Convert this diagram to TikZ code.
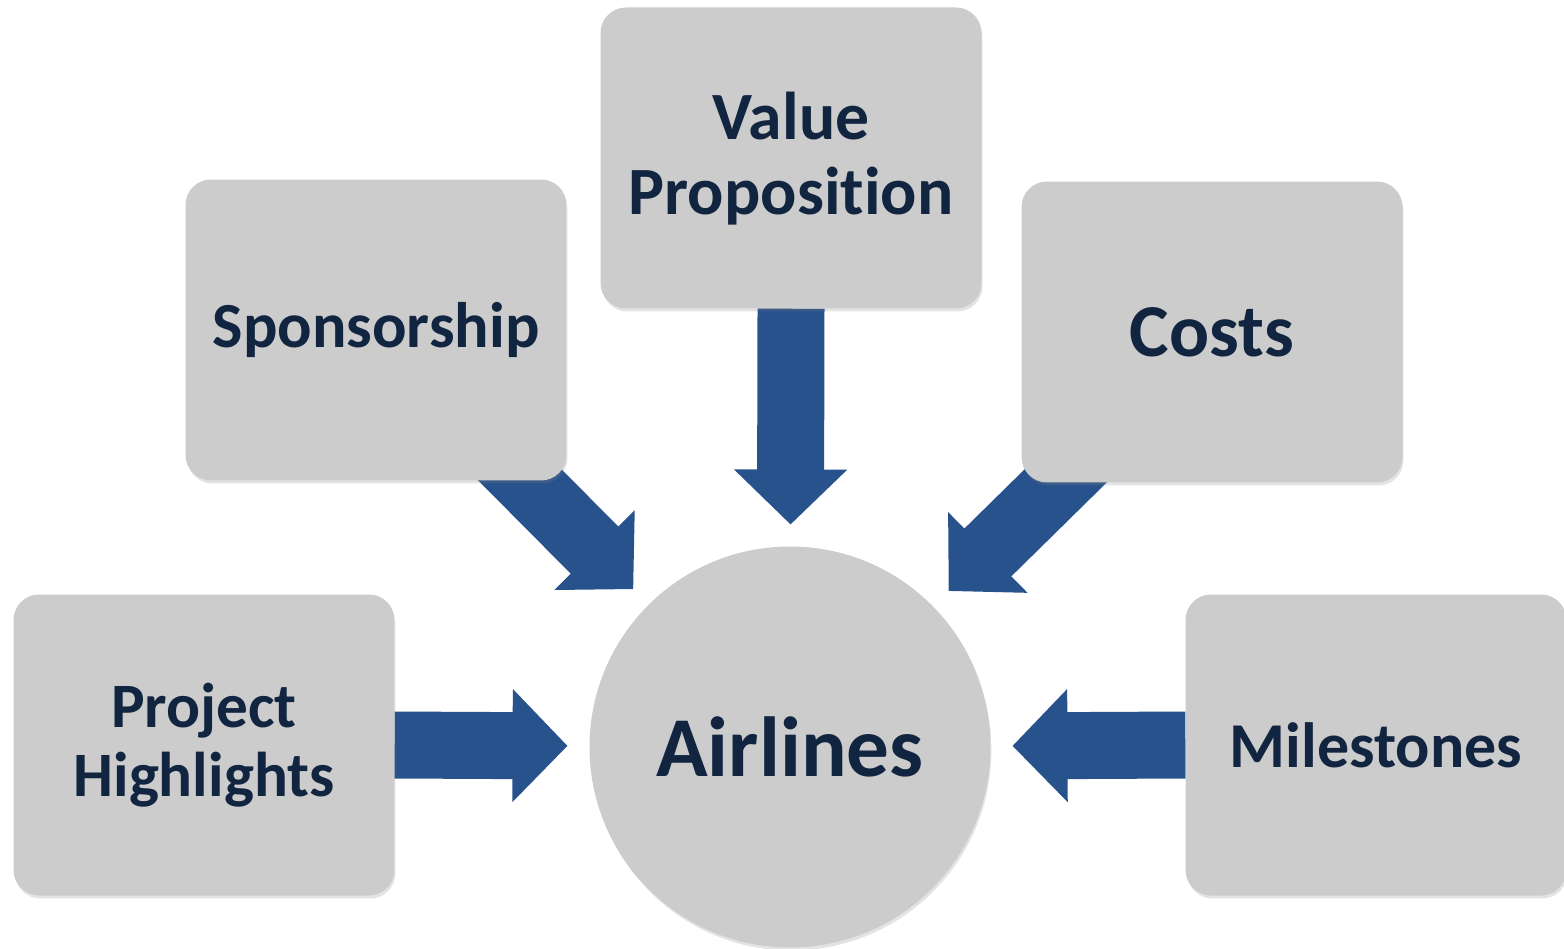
\documentclass[tikz,border=0pt]{standalone}
\usepackage{fontspec}
\setmainfont{Carlito}[Ligatures=CommonOff]
\usetikzlibrary{arrows.meta,shadows}
\definecolor{boxgray}{RGB}{204,204,204}
\definecolor{navytext}{RGB}{17,37,64}
\definecolor{arrowblue}{RGB}{40,82,140}
\pgfdeclarelayer{bg}
\pgfsetlayers{bg,main}
\newcommand{\lowertext}[2]{\raisebox{-#1}[\height][\depth]{\begin{tabular}{@{}c@{}}#2\end{tabular}}}
\begin{document}
\begin{tikzpicture}[x=0.02cm,y=-0.02cm,
  card/.style={rectangle, rounded corners=0.5cm, fill=boxgray, draw=black!20, line width=0.6pt,
    minimum width=7.6cm, minimum height=6cm, inner sep=0pt, align=center, text=navytext,
    font=\bfseries\fontsize{37}{41}\selectfont,
    drop shadow={shadow xshift=0.8pt, shadow yshift=-2pt, opacity=0.22}},
  hub/.style={circle, fill=boxgray, draw=black!20, line width=0.6pt, minimum size=8cm,
    inner sep=0pt, text=navytext, font=\bfseries\fontsize{48.5}{52}\selectfont,
    drop shadow={shadow xshift=0.8pt, shadow yshift=-2pt, opacity=0.22}},
  flow/.style={draw=arrowblue, line width=1.34cm, line cap=butt,
    -{Triangle[length=1.1cm,width=2.2cm]}, shorten >=0.44cm}]
\useasboundingbox (0,0) rectangle (1564,949);
\node[card, font=\bfseries\fontsize{38.5}{42.5}\selectfont] (vp) at (791,158) {\lowertext{2.3pt}{Value\\Proposition}};
\node[card, font=\bfseries\fontsize{36.6}{40}\selectfont] (sp) at (376,330) {Sponsorship};
\node[card, font=\bfseries\fontsize{42.5}{46}\selectfont] (co) at (1212,332) {Costs};
\node[card, font=\bfseries\fontsize{36}{39.7}\selectfont] (ph) at (204,745) {\lowertext{1.7pt}{Project\\Highlights}};
\node[card, font=\bfseries\fontsize{36.4}{40}\selectfont] (ms) at (1376,745) {Milestones};
\node[hub] (air) at (790,747) {Airlines};
\begin{pgfonlayer}{bg}
  \draw[flow] (vp.south) -- (air);
  \draw[flow] (sp.center) -- (air);
  \draw[flow] (co.center) -- (air);
  \draw[flow] (ph.east) -- (air);
  \draw[flow] (ms.west) -- (air);
\end{pgfonlayer}
\end{tikzpicture}
\end{document}
